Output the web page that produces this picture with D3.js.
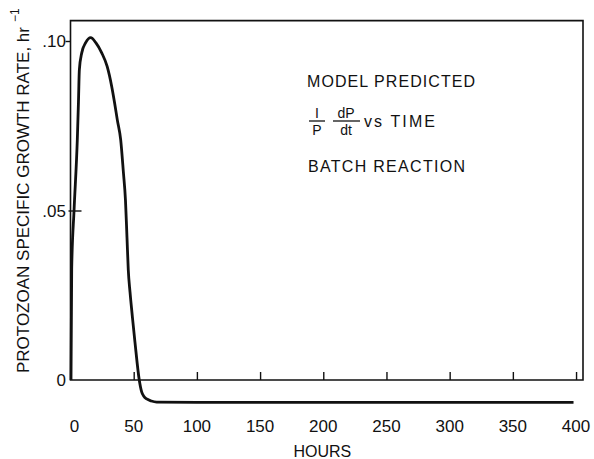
<!DOCTYPE html>
<html>
<head>
<meta charset="utf-8">
<script src="https://cdn.jsdelivr.net/npm/d3@7/dist/d3.min.js"></script>
<style>
  html, body { margin: 0; padding: 0; background: #fff; }
  svg { display: block; }
  text { font-family: "Liberation Sans", Arial, sans-serif; fill: #111; }
</style>
</head>
<body>
<svg id="chart" width="594" height="459"></svg>
<script>
// Model-predicted protozoan specific growth rate (1/P dP/dt) over a batch run
const hours = [0.4, 0.95, 2.8, 5.4, 6.3, 7.0, 8.9, 12.0, 16.0, 20.0, 24.7, 29.0, 32.6, 35.0, 37.0, 39.7, 41.8, 43.5, 44.7, 45.7, 47.1, 49.0, 51.0, 54.4, 56.3, 58.0, 60.3, 64.0, 68.2, 100, 200, 300, 398];
const growthRate = [0.0, 0.033, 0.05, 0.071, 0.082, 0.0915, 0.0965, 0.0995, 0.101, 0.0995, 0.0965, 0.0925, 0.0866, 0.0815, 0.0768, 0.0709, 0.0615, 0.053, 0.042, 0.0326, 0.0259, 0.0185, 0.0112, 0.0, -0.0035, -0.0048, -0.0056, -0.0062, -0.0065, -0.0066, -0.0066, -0.0066, -0.0066];

const xTicks = [0, 50, 100, 150, 200, 250, 300, 350, 400];
const yTicks = [0, 0.05, 0.10];
const yTickLabels = ["0", ".05", ".10"];

const svg = d3.select("#chart");

const x = d3.scaleLinear().domain([0, 405.5]).range([70.5, 583]);
const y = d3.scaleLinear().domain([0, 0.10]).range([380, 41]);
const yTop = 0.106;

const ink = "#111";

// plot frame: top, right, and the zero line as the bottom edge
svg.append("path")
  .attr("d", `M${x(0)},${y(yTop)} H${x(405.5)} V${y(0)} H${x(0)} Z`)
  .attr("fill", "none")
  .attr("stroke", ink)
  .attr("stroke-width", 1.6);

// x ticks rise from the zero line
svg.append("g")
  .attr("transform", `translate(0,${y(0)})`)
  .call(d3.axisTop(x).tickValues(xTicks.filter(d => d > 0)).tickSize(8).tickFormat(""))
  .call(g => g.select(".domain").remove())
  .call(g => g.selectAll("line").attr("stroke", ink).attr("stroke-width", 1.4));

// x tick labels below the curve's floor
svg.append("g")
  .selectAll("text")
  .data(xTicks)
  .join("text")
  .attr("x", d => x(d) + (d === 0 ? 4 : 0))
  .attr("y", 432)
  .attr("text-anchor", "middle")
  .attr("font-size", 17)
  .text(d => d);

svg.append("text")
  .attr("x", x(200) - 1)
  .attr("y", 457)
  .attr("text-anchor", "middle")
  .attr("font-size", 16)
  .text("HOURS");

// y ticks: the top one points outward, the middle one reaches inside
svg.append("g")
  .attr("transform", `translate(${x(0)},0)`)
  .call(d3.axisLeft(y).tickValues([yTicks[2]]).tickSize(5).tickFormat(""))
  .call(g => g.select(".domain").remove())
  .call(g => g.selectAll("line").attr("stroke", ink).attr("stroke-width", 1.4));
svg.append("g")
  .attr("transform", `translate(${x(0) - 2},0)`)
  .call(d3.axisRight(y).tickValues([yTicks[1]]).tickSize(13).tickFormat(""))
  .call(g => g.select(".domain").remove())
  .call(g => g.selectAll("line").attr("stroke", ink).attr("stroke-width", 1.4));

svg.append("g")
  .selectAll("text")
  .data(yTicks)
  .join("text")
  .attr("x", 66)
  .attr("y", d => y(d) + 6)
  .attr("text-anchor", "end")
  .attr("font-size", 17)
  .text((d, i) => yTickLabels[i]);

// rotated y-axis title with its hr^-1 unit
svg.append("text")
  .attr("transform", "translate(29,373) rotate(-90)")
  .attr("text-anchor", "start")
  .attr("font-size", 17)
  .attr("textLength", 346)
  .attr("lengthAdjust", "spacing")
  .text("PROTOZOAN SPECIFIC GROWTH RATE, hr");
svg.append("text")
  .attr("transform", "translate(19,22) rotate(-90)")
  .attr("text-anchor", "start")
  .attr("font-size", 12)
  .text("\u22121");

// growth-rate curve
const line = d3.line()
  .x((d, i) => x(hours[i]))
  .y(d => y(d))
  .curve(d3.curveMonotoneX);

svg.append("path")
  .datum(growthRate)
  .attr("d", line)
  .attr("fill", "none")
  .attr("stroke", ink)
  .attr("stroke-width", 2.8)
  .attr("stroke-linejoin", "round");

// annotation block
const note = svg.append("g");
note.append("text")
  .attr("x", 307).attr("y", 87)
  .attr("font-size", 16)
  .attr("textLength", 168).attr("lengthAdjust", "spacing")
  .text("MODEL PREDICTED");

// 1/P fraction
note.append("text").attr("x", 317).attr("y", 118).attr("text-anchor", "middle").attr("font-size", 14).text("I");
note.append("line").attr("x1", 309).attr("x2", 325).attr("y1", 121).attr("y2", 121).attr("stroke", ink).attr("stroke-width", 1.3);
note.append("text").attr("x", 317).attr("y", 135).attr("text-anchor", "middle").attr("font-size", 14).text("P");

// dP/dt fraction
note.append("text").attr("x", 346).attr("y", 118).attr("text-anchor", "middle").attr("font-size", 14).text("dP");
note.append("line").attr("x1", 333).attr("x2", 360).attr("y1", 121).attr("y2", 121).attr("stroke", ink).attr("stroke-width", 1.3);
note.append("text").attr("x", 346).attr("y", 135).attr("text-anchor", "middle").attr("font-size", 14).text("dt");

note.append("text")
  .attr("x", 364).attr("y", 127)
  .attr("font-size", 16)
  .attr("textLength", 71).attr("lengthAdjust", "spacing")
  .text("vs TIME");

note.append("text")
  .attr("x", 308).attr("y", 172)
  .attr("font-size", 16)
  .attr("textLength", 157).attr("lengthAdjust", "spacing")
  .text("BATCH REACTION");
</script>
</body>
</html>
